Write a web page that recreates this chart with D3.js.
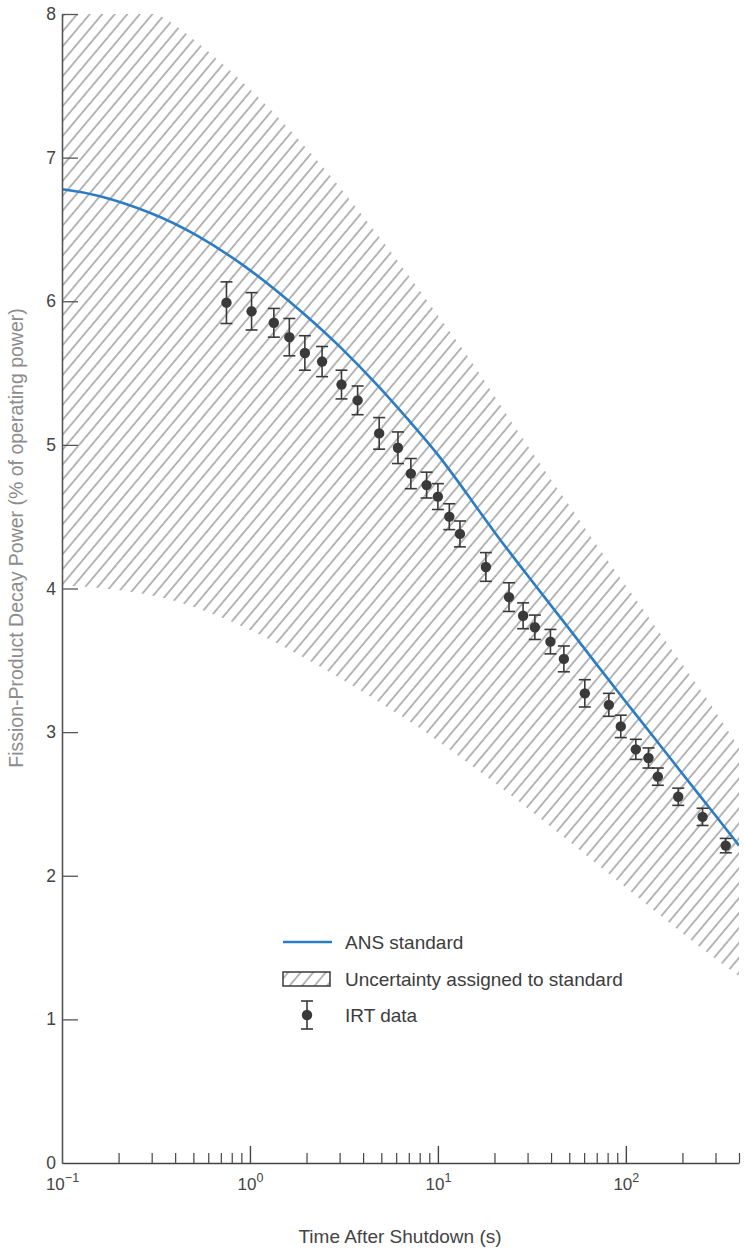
<!DOCTYPE html>
<html>
<head>
<meta charset="utf-8">
<script src="https://cdn.jsdelivr.net/npm/d3@7"></script>
<style>
  html, body { margin: 0; padding: 0; background: #fff; }
  svg text { font-family: "Liberation Sans", Arial, Helvetica, sans-serif; }
</style>
</head>
<body>
<svg id="chart" width="746" height="1248"></svg>
<script>
// ANS standard curve and its uncertainty band
const ansTime   = [0.1, 0.15, 0.3, 0.5, 1, 2, 3, 5, 7, 10, 15, 20, 30, 50, 70, 100, 150, 200, 300, 400];
const ansPower  = [6.78, 6.75, 6.62, 6.48, 6.23, 5.90, 5.69, 5.39, 5.17, 4.94, 4.62, 4.39, 4.09, 3.72, 3.47, 3.21, 2.92, 2.71, 2.42, 2.21];
const bandUpper = [8.17, 8.13, 8.05, 7.83, 7.49, 7.07, 6.80, 6.43, 6.18, 5.90, 5.59, 5.34, 4.99, 4.58, 4.30, 4.02, 3.70, 3.47, 3.15, 2.89];
const bandLower = [4.02, 4.01, 3.96, 3.88, 3.72, 3.51, 3.38, 3.20, 3.08, 2.94, 2.77, 2.65, 2.47, 2.24, 2.08, 1.92, 1.73, 1.60, 1.42, 1.30];

// IRT measurements
const irtTime  = [0.75, 1.02, 1.34, 1.62, 1.96, 2.42, 3.07, 3.74, 4.87, 6.13, 7.18, 8.71, 10.0, 11.5, 13.1,
                  18.0, 23.9, 28.4, 32.8, 39.7, 46.8, 60.5, 81.2, 94.0, 113, 132, 148, 190, 256, 340];
const irtPower = [5.99, 5.93, 5.85, 5.75, 5.64, 5.58, 5.42, 5.31, 5.08, 4.98, 4.80, 4.72, 4.64, 4.50, 4.38,
                  4.15, 3.94, 3.81, 3.73, 3.63, 3.51, 3.27, 3.19, 3.04, 2.88, 2.82, 2.69, 2.55, 2.41, 2.21];
const irtError = [0.145, 0.13, 0.10, 0.13, 0.12, 0.105, 0.10, 0.10, 0.11, 0.11, 0.105, 0.09, 0.09, 0.09, 0.09,
                  0.10, 0.10, 0.09, 0.085, 0.085, 0.09, 0.095, 0.08, 0.078, 0.07, 0.07, 0.06, 0.06, 0.06, 0.05];

const yTicks = [0, 1, 2, 3, 4, 5, 6, 7, 8];
const xMajor = [0.1, 1, 10, 100];
const xExponent = ["\u22121", "0", "1", "2"];
const xMinor = [0.2, 0.3, 0.4, 0.5, 0.6, 0.7, 0.8, 0.9, 2, 3, 4, 5, 6, 7, 8, 9,
                20, 30, 40, 50, 60, 70, 80, 90, 200, 300, 400];

const mLeft = 62, mRight = 739, mTop = 14, mBottom = 1163;
const ink = "#3a3a3a";
const blue = "#2a7cc4";

const svg = d3.select("#chart");

const x = d3.scaleLog().domain([0.1, 400]).range([mLeft, mRight]);
const y = d3.scaleLinear().domain([0, 8]).range([mBottom, mTop]);

const defs = svg.append("defs");
defs.append("pattern")
    .attr("id", "hatch")
    .attr("patternUnits", "userSpaceOnUse")
    .attr("width", 9.6)
    .attr("height", 20)
    .attr("patternTransform", "rotate(40)")
  .append("line")
    .attr("x1", 1).attr("y1", 0)
    .attr("x2", 1).attr("y2", 20)
    .attr("stroke", "#6e6e6e")
    .attr("stroke-width", 1);

defs.append("clipPath").attr("id", "plot")
  .append("rect")
    .attr("x", mLeft).attr("y", mTop)
    .attr("width", mRight - mLeft).attr("height", mBottom - mTop);

const band = ansTime.map((t, i) => ({t: t, lo: bandLower[i], hi: bandUpper[i]}));
const ans = ansTime.map((t, i) => ({t: t, v: ansPower[i]}));
const irt = irtTime.map((t, i) => ({t: t, v: irtPower[i], e: irtError[i]}));

const plot = svg.append("g").attr("clip-path", "url(#plot)");

plot.append("path")
    .datum(band)
    .attr("fill", "url(#hatch)")
    .attr("d", d3.area()
        .x(d => x(d.t))
        .y0(d => y(d.lo))
        .y1(d => y(d.hi))
        .curve(d3.curveBasis));

plot.append("path")
    .datum(ans)
    .attr("fill", "none")
    .attr("stroke", blue)
    .attr("stroke-width", 2.6)
    .attr("d", d3.line()
        .x(d => x(d.t))
        .y(d => y(d.v))
        .curve(d3.curveBasis));

// error bars + points
const pts = svg.append("g").attr("stroke", ink).attr("stroke-width", 1.6);
const pg = pts.selectAll("g").data(irt).join("g");
pg.append("line")
    .attr("x1", d => x(d.t)).attr("x2", d => x(d.t))
    .attr("y1", d => y(d.v + d.e)).attr("y2", d => y(d.v - d.e));
pg.append("line")
    .attr("x1", d => x(d.t) - 6).attr("x2", d => x(d.t) + 6)
    .attr("y1", d => y(d.v + d.e)).attr("y2", d => y(d.v + d.e));
pg.append("line")
    .attr("x1", d => x(d.t) - 6).attr("x2", d => x(d.t) + 6)
    .attr("y1", d => y(d.v - d.e)).attr("y2", d => y(d.v - d.e));
pg.append("circle")
    .attr("cx", d => x(d.t)).attr("cy", d => y(d.v))
    .attr("r", 5.2)
    .attr("fill", ink).attr("stroke", "none");

// y axis
const yAxis = svg.append("g")
    .attr("transform", `translate(${mLeft},0)`)
    .call(d3.axisLeft(y).tickValues(yTicks).tickSizeInner(-16).tickSizeOuter(0).tickPadding(6));
yAxis.select(".domain").attr("stroke", "#555").attr("stroke-width", 1.6);
yAxis.selectAll(".tick line").attr("stroke", "#555").attr("stroke-width", 1.3);
yAxis.selectAll(".tick text").attr("font-size", 17.5).attr("fill", "#444");
yAxis.selectAll(".tick").filter(d => d === 0).select("line").remove();

// x axis: minor ticks
const xMinorAxis = svg.append("g")
    .attr("transform", `translate(0,${mBottom})`)
    .call(d3.axisBottom(x).tickValues(xMinor).tickSizeInner(-10).tickSizeOuter(0).tickFormat(""));
xMinorAxis.select(".domain").remove();
xMinorAxis.selectAll(".tick line").attr("stroke", "#444").attr("stroke-width", 1.2);

const xAxis = svg.append("g")
    .attr("transform", `translate(0,${mBottom})`)
    .call(d3.axisBottom(x).tickValues(xMajor).tickSizeInner(-17).tickSizeOuter(0).tickFormat(""));
xAxis.select(".domain").attr("stroke", "#444").attr("stroke-width", 1.6);
xAxis.selectAll(".tick line").attr("stroke", "#444").attr("stroke-width", 1.4);
xAxis.selectAll(".tick").filter(d => d === 0.1).select("line").remove();
xAxis.selectAll(".tick").each(function(d, i) {
  const t = d3.select(this).append("text")
      .attr("y", 27)
      .attr("text-anchor", "middle")
      .attr("fill", "#444")
      .attr("font-size", 17);
  t.append("tspan").text("10");
  t.append("tspan").attr("dy", -8).attr("font-size", 12.5).text(xExponent[i]);
});

// axis titles
svg.append("text")
    .attr("x", 400)
    .attr("y", 1243)
    .attr("text-anchor", "middle")
    .attr("font-size", 19)
    .attr("fill", "#444")
    .text("Time After Shutdown (s)");

svg.append("text")
    .attr("transform", "translate(23,538) rotate(-90)")
    .attr("text-anchor", "middle")
    .attr("font-size", 19.5)
    .attr("fill", "#8c8c8c")
    .text("Fission-Product Decay Power (% of operating power)");

// legend
const lg = svg.append("g").attr("font-size", 19).attr("fill", "#3c3c3c");
lg.append("line")
    .attr("x1", 283).attr("x2", 332).attr("y1", 942).attr("y2", 942)
    .attr("stroke", blue).attr("stroke-width", 2.6);
lg.append("text").attr("x", 345).attr("y", 949).text("ANS standard");

lg.append("rect")
    .attr("x", 283).attr("y", 972).attr("width", 47).attr("height", 14)
    .attr("fill", "url(#hatch)").attr("stroke", ink).attr("stroke-width", 1.5);
lg.append("text").attr("x", 345).attr("y", 986).text("Uncertainty assigned to standard");

const lgm = lg.append("g").attr("stroke", ink).attr("stroke-width", 1.6);
lgm.append("line").attr("x1", 307).attr("x2", 307).attr("y1", 1001).attr("y2", 1029);
lgm.append("line").attr("x1", 301).attr("x2", 313).attr("y1", 1001).attr("y2", 1001);
lgm.append("line").attr("x1", 301).attr("x2", 313).attr("y1", 1029).attr("y2", 1029);
lgm.append("circle").attr("cx", 307).attr("cy", 1015).attr("r", 5.2).attr("fill", ink).attr("stroke", "none");
lg.append("text").attr("x", 345).attr("y", 1022).text("IRT data");
</script>
</body>
</html>
